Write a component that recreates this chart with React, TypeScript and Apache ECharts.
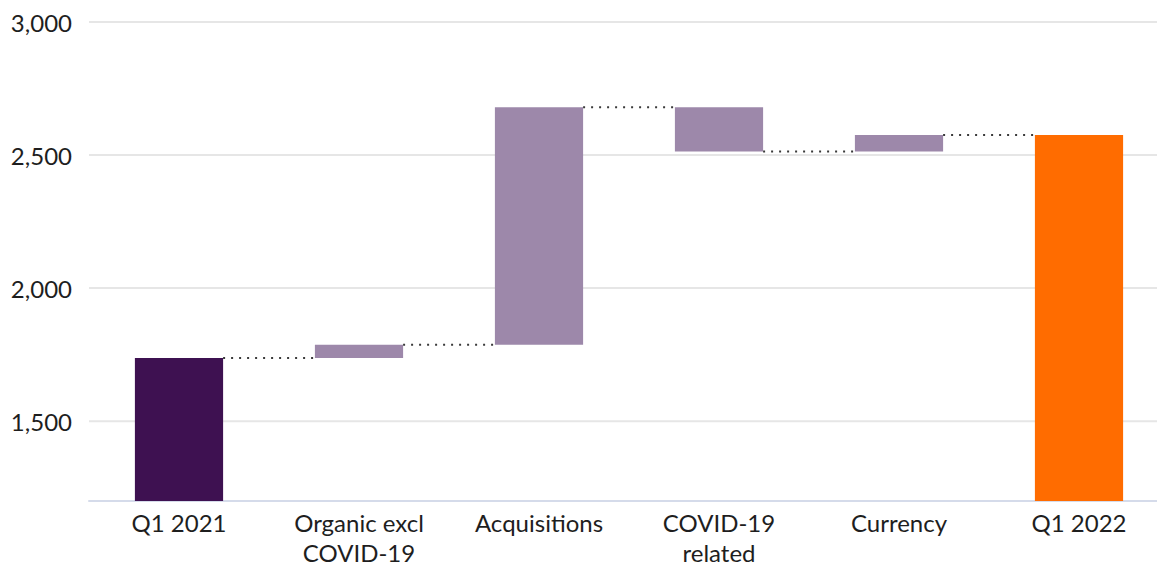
import React, { useEffect, useRef } from 'react';
import * as echarts from 'echarts';

const categories = ['Q1 2021', 'Organic excl\nCOVID-19', 'Acquisitions', 'COVID-19\nrelated', 'Currency', 'Q1 2022'];
const startValue = 1737;
const changes = [50, 893, -167, 62];
const endValue = 2575;
const yTicks = [1500, 2000, 2500, 3000];
const yMin = 1200;
const yMax = 3000;

const START_COLOR = '#3e1151';
const CHANGE_COLOR = '#9d88aa';
const END_COLOR = '#ff6c00';
const BAR_RATIO = 0.49;

export default function App() {
  const ref = useRef<HTMLDivElement>(null);

  useEffect(() => {
    if (!ref.current) return;
    const chart = echarts.init(ref.current, undefined, { renderer: 'svg' });

    const levels: number[] = [startValue];
    changes.forEach((c) => levels.push(levels[levels.length - 1] + c));

    const baseData: number[] = [0];
    const barData: any[] = [{ value: startValue, itemStyle: { color: START_COLOR } }];
    changes.forEach((c, i) => {
      baseData.push(Math.min(levels[i], levels[i + 1]));
      barData.push({ value: Math.abs(c), itemStyle: { color: CHANGE_COLOR } });
    });
    baseData.push(0);
    barData.push({ value: endValue, itemStyle: { color: END_COLOR } });

    const connectorData = levels.map((lv, i) => [i, lv]);
    const gridData = yTicks.map((v) => [0, v]);

    chart.setOption({
      animation: false,
      grid: { left: 89, right: 0, top: 22, bottom: 59, containLabel: false },
      xAxis: {
        type: 'category',
        data: categories,
        axisLine: { show: true, lineStyle: { color: '#d5dbea', width: 2 } },
        axisTick: { show: false },
        axisLabel: {
          color: '#1e1e1e',
          fontSize: 24,
          lineHeight: 30,
          fontFamily: 'Lato',
          margin: 6,
          interval: 0,
        },
      },
      yAxis: {
        type: 'value',
        min: yMin,
        max: yMax,
        interval: 100,
        axisLine: { show: false },
        axisTick: { show: false },
        splitLine: { show: false },
        axisLabel: {
          color: '#1e1e1e',
          fontSize: 24,
          fontFamily: 'Lato',
          margin: 17,
          formatter: (v: number) => (yTicks.includes(v) ? v.toLocaleString('en-US') : ''),
        },
      },
      series: [
        {
          type: 'custom',
          name: 'grid',
          z: 0,
          silent: true,
          data: gridData,
          renderItem: (params: any, api: any) => {
            const y = api.coord([0, api.value(1)])[1];
            const cs = params.coordSys;
            return {
              type: 'line',
              shape: { x1: cs.x, y1: y, x2: cs.x + cs.width, y2: y },
              style: { stroke: '#e6e6e6', lineWidth: 2 },
            };
          },
        },
        {
          type: 'bar',
          name: 'base',
          stack: 'wf',
          barWidth: BAR_RATIO * 100 + '%',
          silent: true,
          itemStyle: { color: 'transparent' },
          data: baseData,
          z: 2,
        },
        {
          type: 'bar',
          name: 'value',
          stack: 'wf',
          barWidth: BAR_RATIO * 100 + '%',
          data: barData,
          z: 2,
        },
        {
          type: 'custom',
          name: 'connectors',
          z: 3,
          silent: true,
          data: connectorData,
          renderItem: (params: any, api: any) => {
            const idx = api.value(0);
            const lv = api.value(1);
            const p = api.coord([idx, lv]);
            const band = api.size([1, 0])[0];
            const half = (band * BAR_RATIO) / 2;
            return {
              type: 'line',
              shape: { x1: p[0] + half, y1: p[1], x2: p[0] + band - half, y2: p[1] },
              style: { stroke: '#3a3a3a', lineWidth: 2, lineDash: [2, 6] },
            };
          },
        },
      ],
    });

    return () => chart.dispose();
  }, []);

  return (
    <div
      style={{
        position: 'fixed',
        left: 0,
        top: 0,
        width: 1157,
        height: 567,
        overflow: 'hidden',
        background: '#ffffff',
      }}
    >
      <div ref={ref} style={{ width: 1169, height: 567 }} />
    </div>
  );
}
